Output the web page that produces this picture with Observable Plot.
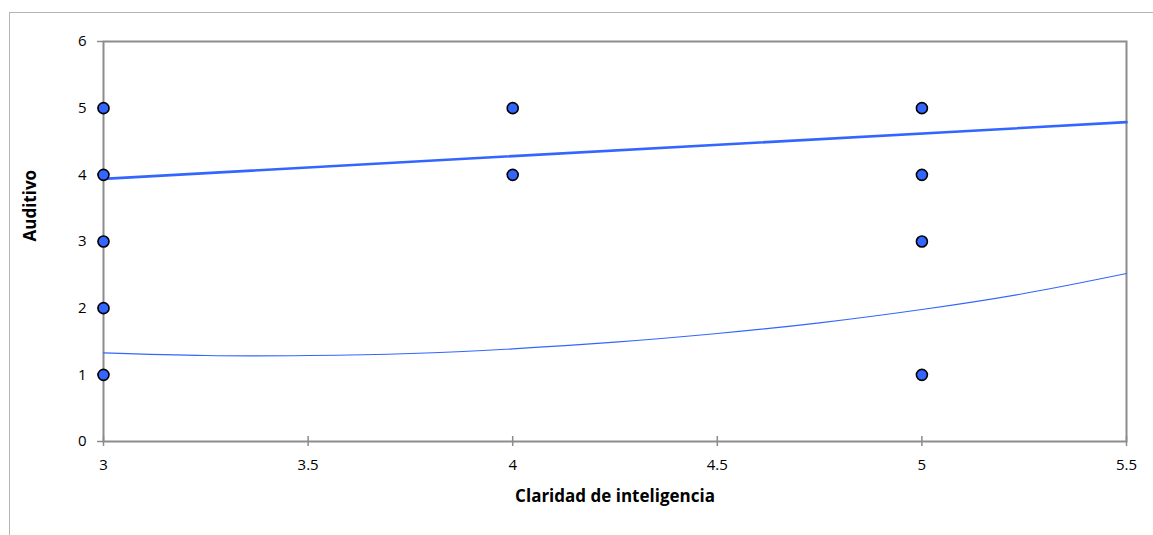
<!DOCTYPE html>
<html>
<head>
<meta charset="utf-8">
<script src="https://cdn.jsdelivr.net/npm/d3@7"></script>
<script src="https://cdn.jsdelivr.net/npm/@observablehq/plot@0.6"></script>
<style>
  html, body { margin: 0; padding: 0; background: #fff; }
  #wrap { position: relative; width: 1153px; height: 535px; overflow: hidden; }
  #frame { position: absolute; left: 9px; top: 12px; width: 1200px; height: 600px;
           border-left: 1px solid #b4b4b4; border-top: 1px solid #b4b4b4; }
  #chart { position: absolute; left: 0; top: 0; }
</style>
</head>
<body>
<div id="wrap"><div id="frame"></div><div id="chart"></div></div>
<script>
// Scatter points (Claridad de inteligencia, Auditivo)
const pointX = [3, 3, 3, 3, 3, 4, 4, 5, 5, 5, 5];
const pointY = [5, 4, 3, 2, 1, 5, 4, 5, 4, 3, 1];

// Linear trend line (endpoints)
const linX = [3, 5.5];
const linY = [3.94, 4.79];

// Polynomial trend curve
const polyX = [3, 3.25, 3.5, 3.75, 4, 4.25, 4.5, 4.75, 5, 5.25, 5.5];
const polyY = [1.33, 1.29, 1.29, 1.32, 1.39, 1.49, 1.62, 1.78, 1.98, 2.22, 2.52];

const xTicks = [3, 3.5, 4, 4.5, 5, 5.5];
const yTicks = [0, 1, 2, 3, 4, 5, 6];

const points = pointX.map((x, i) => ({x, y: pointY[i]}));
const lin = linX.map((x, i) => ({x, y: linY[i]}));
const poly = polyX.map((x, i) => ({x, y: polyY[i]}));

const blue = "#3366ff";
const axisGray = "#8c8c8c";

const chart = Plot.plot({
  width: 1153,
  height: 535,
  marginLeft: 103,
  marginRight: 27,
  marginTop: 41,
  marginBottom: 94,
  style: {fontFamily: "'Open Sans', sans-serif", fontSize: "15px", color: "#000", background: "transparent"},
  x: {domain: [3, 5.5], ticks: xTicks},
  y: {domain: [0, 6], ticks: yTicks},
  marks: [
    Plot.frame({stroke: axisGray, strokeWidth: 2}),
    Plot.ruleX(xTicks, {x: d => d, y1: 0, y2: 0, insetTop: -5, insetBottom: -5, stroke: axisGray, strokeWidth: 1.5}),
    Plot.ruleY(yTicks, {y: d => d, x1: 3, x2: 3, insetLeft: -6, insetRight: 0, stroke: axisGray, strokeWidth: 1.5}),
    Plot.axisX({ticks: xTicks, tickSize: 0, tickPadding: 18, tickFormat: d => String(d), label: null, fontSize: 15}),
    Plot.axisY({ticks: yTicks, tickSize: 0, tickPadding: 17, tickFormat: d => String(d), label: null, fontSize: 15}),
    Plot.text(["Claridad de inteligencia"], {frameAnchor: "bottom", dy: 60, fontWeight: "bold", fontSize: 17}),
    Plot.text(["Auditivo"], {frameAnchor: "left", dx: -73, rotate: -90, fontWeight: "bold", fontSize: 17}),
    Plot.line(poly, {x: "x", y: "y", stroke: blue, strokeWidth: 1.2, curve: "natural"}),
    Plot.line(lin, {x: "x", y: "y", stroke: blue, strokeWidth: 2.6}),
    Plot.dot(points, {x: "x", y: "y", r: 5.5, fill: blue, stroke: "#000", strokeWidth: 1.6})
  ]
});
document.getElementById("chart").appendChild(chart);
</script>
</body>
</html>
